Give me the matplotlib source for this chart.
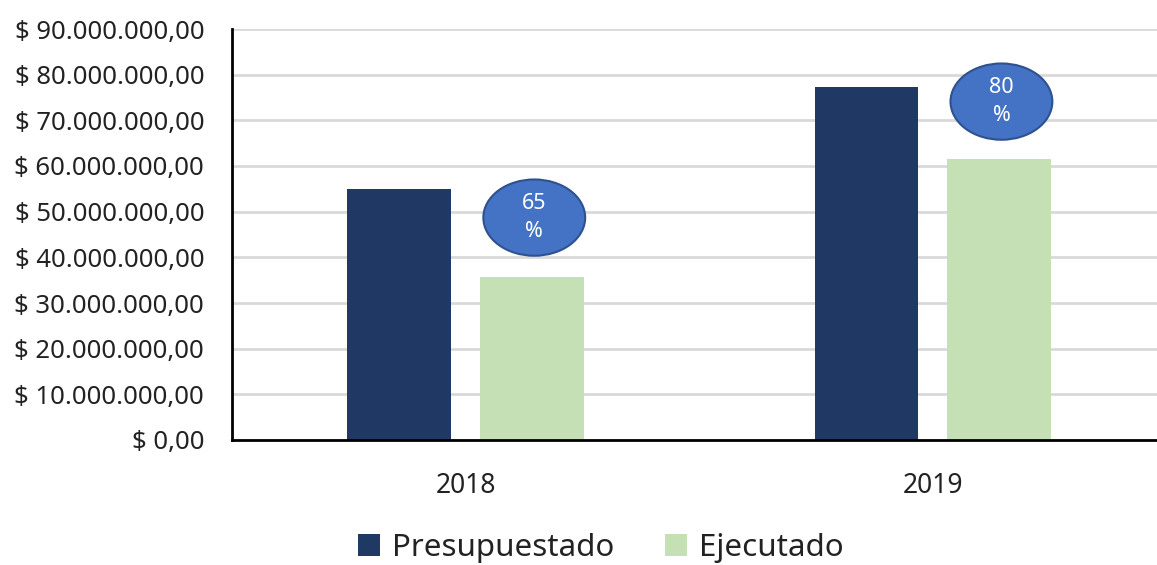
import numpy as np
import matplotlib
matplotlib.use('Agg')
import matplotlib.pyplot as plt
from matplotlib.patches import Ellipse
from matplotlib.ticker import FuncFormatter

plt.rcParams['font.family'] = ['Noto Sans', 'DejaVu Sans']

# data
years = ['2018', '2019']
presupuestado = [55.0e6, 77.4e6]
ejecutado = [35.7e6, 61.5e6]
pct_labels = ['65', '80']

col_pres = '#1F3864'
col_ejec = '#C5E0B4'


def pesos(v, pos):
    s = '{:,.2f}'.format(v)
    s = s.replace(',', 'X').replace('.', ',').replace('X', '.')
    return '$ ' + s


fig = plt.figure(figsize=(11.57, 5.65), dpi=100)
ax = fig.add_axes([232 / 1157, 125 / 565, 1 - 232 / 1157, 411 / 565])

x = np.arange(len(years))
w = 0.222
off = 0.142
ax.bar(x - off, presupuestado, w, color=col_pres, label='Presupuestado', zorder=3)
ax.bar(x + off, ejecutado, w, color=col_ejec, label='Ejecutado', zorder=3)

# percentage bubbles above the executed bars
for i, lab in enumerate(pct_labels):
    yc = ejecutado[i] + 13.0e6 if i == 0 else ejecutado[i] + 12.6e6
    e = Ellipse((x[i] + off + 0.005, yc), 0.218, 16.7e6, facecolor='#4472C4',
                edgecolor='#2F528F', linewidth=1.5, zorder=4)
    ax.add_patch(e)
    ax.text(x[i] + off + 0.005, yc, lab + '\n%', color='white', ha='center',
            va='center', fontsize=15.5, linespacing=1.4, zorder=5)

ax.set_xlim(-0.5, 1.48)
ax.set_ylim(0, 90e6)
ax.set_yticks(np.arange(0, 90e6 + 1, 10e6))
ax.yaxis.set_major_formatter(FuncFormatter(pesos))
ax.set_xticks(x)
ax.set_xticklabels(years)
ax.tick_params(axis='y', length=0, pad=20, labelsize=18.5, labelcolor='#222222')
ax.tick_params(axis='x', length=0, pad=23, labelsize=19, labelcolor='#222222')

ax.grid(axis='y', color='#D9D9D9', linewidth=2, zorder=0)
ax.set_axisbelow(True)
for s in ['top', 'right']:
    ax.spines[s].set_visible(False)
for s in ['left', 'bottom']:
    ax.spines[s].set_linewidth(2)
    ax.spines[s].set_color('black')
    ax.spines[s].set_zorder(6)

leg = fig.legend(loc='center', bbox_to_anchor=(601 / 1157, 1 - 548 / 565), ncol=2,
                 frameon=False, fontsize=22.5, handlelength=0.7, handleheight=0.7,
                 handletextpad=0.4, columnspacing=1.6)
for t in leg.get_texts():
    t.set_color('#222222')

fig.savefig('out.png', dpi=100)
